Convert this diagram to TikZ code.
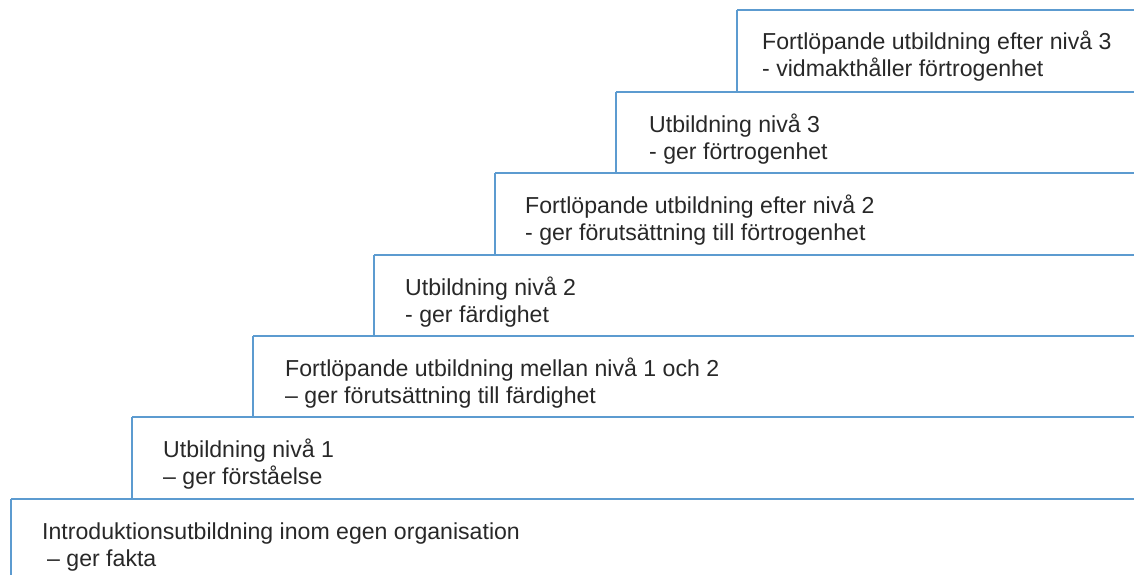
\documentclass[tikz,border=0pt]{standalone}
\usepackage{fontspec}
\setmainfont{Liberation Sans}
\definecolor{stepblue}{RGB}{92,155,208}
\definecolor{txt}{RGB}{40,40,40}
\begin{document}
\begin{tikzpicture}[x=1pt,y=-1pt,
  stepline/.style={draw=stepblue,line width=1.6pt},
  steptext/.style={anchor=base west,inner sep=0pt,align=left,text=txt,
    font=\fontsize{23.1}{27}\selectfont}]
\useasboundingbox (0,0) rectangle (1134,575);
% step corners
\coordinate (c0) at (11,499);
\coordinate (c1) at (132,417);
\coordinate (c2) at (253,336);
\coordinate (c3) at (374,255);
\coordinate (c4) at (495,173);
\coordinate (c5) at (616,92);
\coordinate (c6) at (737,10);
\coordinate (b0) at (11,576);
% horizontal treads
\foreach \i in {0,...,6}{
  \draw[stepline] (c\i) -- (c\i -| 1135,0);
}
% vertical risers
\draw[stepline] (c0) -- (b0);
\draw[stepline] (c1) -- (c1 |- c0);
\draw[stepline] (c2) -- (c2 |- c1);
\draw[stepline] (c3) -- (c3 |- c2);
\draw[stepline] (c4) -- (c4 |- c3);
\draw[stepline] (c5) -- (c5 |- c4);
\draw[stepline] (c6) -- (c6 |- c5);
% texts (base = baseline of the last line)
\node[steptext] (t0) at ([shift={(31,67)}]c0) {Introduktionsutbildning inom egen organisation\\\hspace{5pt}– ger fakta};
\node[steptext] (t1) at ([shift={(31,67)}]c1) {Utbildning nivå 1\\– ger förståelse};
\node[steptext] (t2) at ([shift={(32,67)}]c2) {Fortlöpande utbildning mellan nivå 1 och 2\\– ger förutsättning till färdighet};
\node[steptext] (t3) at ([shift={(31,67)}]c3) {Utbildning nivå 2\\- ger färdighet};
\node[steptext] (t4) at ([shift={(30,67)}]c4) {Fortlöpande utbildning efter nivå 2\\- ger förutsättning till förtrogenhet};
\node[steptext] (t5) at ([shift={(33,67)}]c5) {Utbildning nivå 3\\- ger förtrogenhet};
\node[steptext] (t6) at ([shift={(25,67)}]c6) {Fortlöpande utbildning efter nivå 3\\- vidmakthåller förtrogenhet};
\end{tikzpicture}
\end{document}
